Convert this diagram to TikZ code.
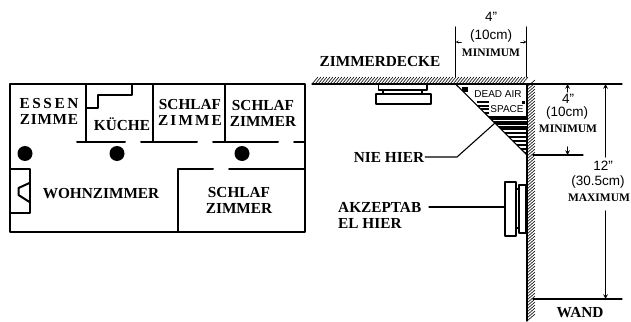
\documentclass[tikz,border=0pt]{standalone}
\usepackage{fontspec}
\setmainfont{Liberation Serif}
\setsansfont{Liberation Sans}
\newcommand{\inchmark}{\symbol{34}}
\begin{document}
\begin{tikzpicture}[x=1pt,y=-1pt,line join=round,line cap=round,>=stealth]
	\tikzset{every node/.style={inner sep=0pt},
		wall/.style={line width=2pt},
		thinline/.style={line width=1.1pt},
		roomlabel/.style={font=\fontsize{15.3}{16}\selectfont\bfseries,align=center},
		sizelabel/.style={font=\sffamily\fontsize{13.5}{14}\selectfont},
		limitlabel/.style={font=\fontsize{11.5}{13}\selectfont\bfseries},
		airlabel/.style={font=\sffamily\fontsize{10}{12}\selectfont,fill=white},
		unit/.style={draw,thinline,fill=white}}
	\useasboundingbox (0,0) rectangle (631,321);
	\draw[wall] (10,84) rectangle (305,232);
	\draw[wall] (86,84)--(86,142);
	\draw[wall] (77,142)--(125,142);
	\draw[wall] (86,108)--(98,108)--(98,95)--(132,95)--(132,84);
	\draw[wall] (152.5,84)--(152.5,142);
	\draw[wall] (141,142)--(197,142);
	\draw[wall] (225,84)--(225,142);
	\draw[wall] (213,142)--(278,142);
	\draw[wall] (294,142)--(305,142);
	\draw[wall] (10,169) rectangle (29.5,213);
	\draw[wall] (29.5,183)--(18.5,188)--(18.5,195)--(29.5,202);
	\draw[wall] (213,169)--(178,169)--(178,232);
	\draw[wall] (229,169)--(305,169);
	\foreach \x in {25,117,242}
		\fill (\x,153.5) circle (7.5);
	\node[roomlabel] (essen) at (49,111.5) {\addfontfeature{LetterSpace=17}ESSEN\\\addfontfeature{LetterSpace=5}ZIMME};
	\node[roomlabel] (kueche) at (122,124) {KÜCHE};
	\node[roomlabel] (schlafa) at (190,112) {SCHLAF\\\addfontfeature{LetterSpace=14}ZIMME};
	\node[roomlabel] (schlafb) at (263,113) {SCHLAF\\ZIMMER};
	\node[roomlabel] (wohn) at (101,194) {WOHNZIMMER};
	\node[roomlabel] (schlafc) at (239,200) {SCHLAF\\ZIMMER};
	\draw[thinline] (312,84)--(527,84);
	\foreach \x in {312,315,...,522}
		\draw[line width=0.6pt] (\x,84)--(\x+6,77);
	\draw[thinline] (527,84)--(527,321);
	\foreach \y in {87,90,...,321}
		\draw[line width=0.6pt] (527,\y)--(535,\y-7);
	\begin{scope}
		\clip (455.5,84)--(527,84)--(527,155)--cycle;
		\fill (455,116) rectangle (527,129);
		\foreach \y in {120,124,...,155}
			\draw[line width=2pt,line cap=butt] (455,\y+9)--(527,\y+9);
		\draw[white,line width=0.6pt,line cap=butt] (470,120.5)--(527,120.5);
		\draw[white,line width=0.6pt,line cap=butt] (470,125)--(527,125);
		\fill (462,87) rectangle (468,92);
		\fill (521.5,101) rectangle (525,104);
		\foreach \y in {102,105.5,109,112.5}
			\draw[line width=2pt,line cap=butt] (477,\y)--(489,\y);
	\end{scope}
	\draw[thinline] (527,155)--(455.5,84);
	\node[airlabel,inner xsep=1pt,inner ysep=2pt] (deadair) at (498,94.5) {DEAD AIR};
	\node[airlabel,inner xsep=1pt,inner ysep=1pt] (space) at (507,109) {SPACE};
	\draw[thinline] (455.5,27)--(455.5,77);
	\draw[thinline] (526.5,27)--(526.5,77);
	\coordinate (widthl) at (455.5,42);
	\coordinate (widthr) at (526.5,42);
	\draw[->] ([xshift=6pt]widthl)--(widthl);
	\draw[->] ([xshift=-6pt]widthr)--(widthr);
	\node[sizelabel] (widthin) at (491,17) {4\inchmark};
	\node[sizelabel] (widthcm) at (491,36) {(10cm)};
	\node[limitlabel] (widthmin) at (491,53) {MINIMUM};
	\node[roomlabel] (decke) at (380,62) {ZIMMERDECKE};
	\draw[unit] (378.5,84) rectangle (427,90);
	\draw[unit] (383,90) rectangle (422,94);
	\draw[unit] (376,94) rectangle (431,104);
	\coordinate (roofline) at (622,84);
	\coordinate (lowline) at (583,155);
	\coordinate (baseline) at (622,299);
	\draw[thinline] (527,84)--(roofline);
	\draw[thinline] (533,155)--(lowline);
	\draw[thinline] (533,299)--(baseline);
	\draw[thinline,->] (567.5,92)--(567.5,84);
	\draw[thinline,->] (567.5,147)--(567.5,155);
	\node[sizelabel] (lowin) at (568,99) {4\inchmark};
	\node[sizelabel] (lowcm) at (567,113) {(10cm)};
	\node[limitlabel] (lowmin) at (568,129) {MINIMUM};
	\node[sizelabel] (maxin) at (603,166) {12\inchmark};
	\node[sizelabel] (maxcm) at (598,182) {(30.5cm)};
	\node[limitlabel] (maxmin) at (599,198) {MAXIMUM};
	\draw[thinline,->] (605.5,157)--(605.5,84);
	\draw[thinline,->] (605.5,211)--(605.5,299);
	\node[roomlabel] (wand) at (580,313) {WAND};
	\node[roomlabel] (nie) at (389,157) {NIE HIER};
	\coordinate (niepoint) at (495,123);
	\draw[thinline] ([xshift=1pt]nie.east)--(457,157)--(niepoint);
	\node[roomlabel,align=left,anchor=west] (akzept) at (338,215) {AKZEPTAB\\EL HIER};
	\node[unit,minimum width=11pt,minimum height=54pt] (wallunit) at (510.5,209) {};
	\draw[unit] (516,189) rectangle (519,228);
	\draw[unit] (519,185) rectangle (526,233);
	\coordinate (leadstart) at (429,207);
	\draw[thinline] (leadstart)--(leadstart-|wallunit.west);
\end{tikzpicture}
\end{document}
